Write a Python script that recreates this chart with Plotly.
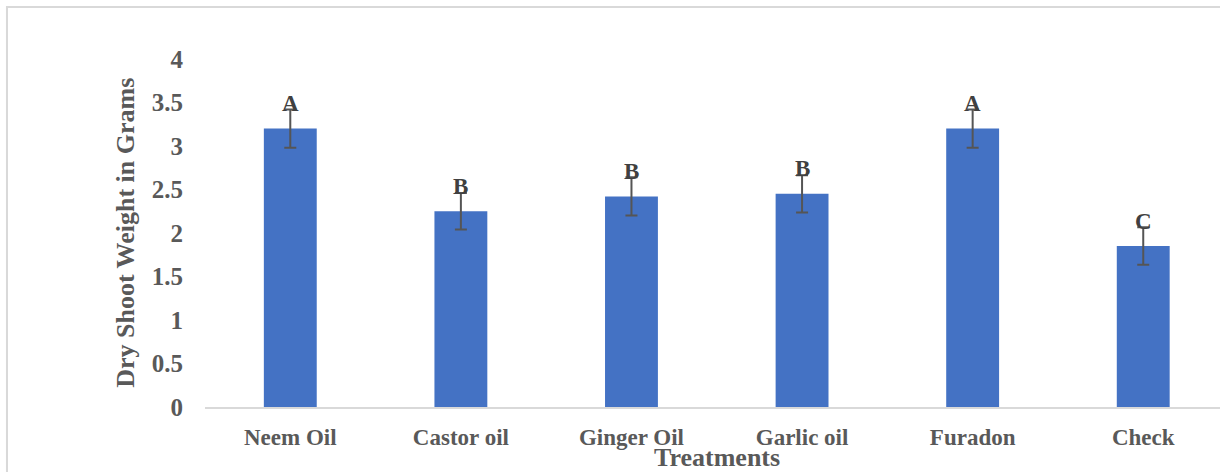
import plotly.graph_objects as go

# Treatment means with standard errors and mean-separation letters
treatments = ["Neem Oil", "Castor oil", "Ginger Oil", "Garlic oil", "Furadon", "Check"]
dry_shoot_weight = [3.2, 2.25, 2.42, 2.45, 3.2, 1.85]
std_error = [0.22, 0.21, 0.22, 0.215, 0.22, 0.215]
group_letters = ["A", "B", "B", "B", "A", "C"]

y_ticks = [0, 0.5, 1, 1.5, 2, 2.5, 3, 3.5, 4]
y_tick_text = ["0", "0.5", "1", "1.5", "2", "2.5", "3", "3.5", "4"]

FONT = "Liberation Serif, Times New Roman, serif"
TEXT_GREY = "#595959"
BAR_BLUE = "#4472C4"

fig = go.Figure()

fig.add_trace(go.Bar(
    x=treatments,
    y=dry_shoot_weight,
    width=0.31,
    marker=dict(color=BAR_BLUE, line=dict(width=0)),
    error_y=dict(type="data", array=std_error, visible=True,
                 color="#555555", thickness=2, width=6),
    hoverinfo="x+y",
))

# significance letters above each bar
for t, v, letter in zip(treatments, dry_shoot_weight, group_letters):
    fig.add_annotation(
        x=t, y=v, text=letter, showarrow=False,
        yanchor="middle", yshift=25,
        font=dict(family=FONT, size=23, color="#404040", weight="bold"),
    )

# axis titles
fig.add_annotation(
    x=-0.079, y=0.5, xref="paper", yref="paper",
    text="Dry Shoot Weight in Grams", textangle=-90, showarrow=False,
    xanchor="center", yanchor="middle",
    font=dict(family=FONT, size=26, color=TEXT_GREY, weight="bold"),
)
fig.add_annotation(
    x=0.504, y=-0.097, xref="paper", yref="paper",
    text="Treatments", showarrow=False,
    xanchor="center", yanchor="top",
    font=dict(family=FONT, size=26, color=TEXT_GREY, weight="bold"),
)

# light outer frame of the chart area
fig.add_shape(
    type="rect", xref="paper", yref="paper",
    x0=-0.1951, x1=1.02, y0=-0.4, y1=1.1494,
    line=dict(color="#d9d9d9", width=2), fillcolor="rgba(0,0,0,0)",
    layer="below",
)

fig.update_layout(
    width=1220, height=472,
    margin=dict(l=205, r=0, t=59, b=65),
    paper_bgcolor="white", plot_bgcolor="white",
    showlegend=False,
    bargap=0.69,
    xaxis=dict(
        range=[-0.5, 5.45],
        showline=True, linecolor="#d9d9d9", linewidth=2,
        showgrid=False, zeroline=False, ticks="",
        ticklabelstandoff=8,
        tickfont=dict(family=FONT, size=23, color=TEXT_GREY, weight="bold"),
    ),
    yaxis=dict(
        range=[0, 4],
        tickmode="array", tickvals=y_ticks, ticktext=y_tick_text,
        showline=False, showgrid=False, zeroline=False, ticks="",
        ticklabelstandoff=21,
        tickfont=dict(family=FONT, size=25, color=TEXT_GREY, weight="bold"),
    ),
)

fig.write_html("out.html")
